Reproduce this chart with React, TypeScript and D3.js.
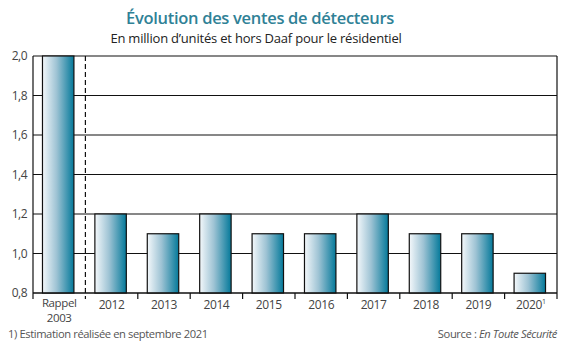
import React from "react";
import * as d3 from "d3";

const categories = ["Rappel 2003", "2012", "2013", "2014", "2015", "2016", "2017", "2018", "2019", "2020"];
const sales = [2.0, 1.2, 1.1, 1.2, 1.1, 1.1, 1.2, 1.1, 1.1, 0.9];
const yTicks = [0.8, 1.0, 1.2, 1.4, 1.6, 1.8, 2.0];

const W = 570;
const H = 350;
const margin = { top: 56, right: 13, bottom: 57, left: 33 };
const font = "'Open Sans', 'Noto Sans', sans-serif";

export default function App() {
  const width = W - margin.left - margin.right;
  const height = H - margin.top - margin.bottom;

  const y = d3.scaleLinear().domain([0.8, 2.0]).range([height, 0]);
  // band boundaries for ticks and bars
  const x = d3.scaleBand().domain(categories).range([0, width]).padding(0);
  const bandW = x.bandwidth();
  const barW = bandW * 0.6;

  return (
    <svg width={W} height={H} style={{ position: "absolute", left: 0, top: 0, background: "#fff" }}>
      <defs>
        <linearGradient id="barGrad" x1="0" x2="1" y1="0" y2="0">
          <stop offset="0" stopColor="#f4f8fb" />
          <stop offset="0.45" stopColor="#9ec3d4" />
          <stop offset="1" stopColor="#04799a" />
        </linearGradient>
      </defs>
      <text x={260} y={24} textAnchor="middle" fontFamily={font} fontSize={16.5} fontWeight={600} fill="#2f8196" letterSpacing={-0.3}>
        Évolution des ventes de détecteurs
      </text>
      <text x={256} y={43} textAnchor="middle" fontFamily={font} fontSize={13} fill="#222" letterSpacing={-0.2}>
        En million d’unités et hors Daaf pour le résidentiel
      </text>
      <g transform={`translate(${margin.left},${margin.top})`}>
        {yTicks.map((t) => (
          <g key={t}>
            <line x1={0} x2={width} y1={y(t)} y2={y(t)} stroke="#111" strokeWidth={1.2} />
            <text x={-6} y={y(t) + 4} textAnchor="end" fontFamily={font} fontSize={12} fill="#444" letterSpacing={-0.5}>
              {d3.format(".1f")(t).replace(".", ",")}
            </text>
          </g>
        ))}
        {/* frame */}
        <line x1={0} x2={0} y1={0} y2={height + 6} stroke="#111" strokeWidth={1.2} />
        <line x1={width} x2={width} y1={0} y2={height + 6} stroke="#111" strokeWidth={1.2} />
        <line x1={x(categories[1])!} x2={x(categories[1])!} y1={0} y2={height + 6} stroke="#111" strokeWidth={1.2} strokeDasharray="5,3" />
        {categories.map((c, i) =>
          i > 1 ? <line key={c} x1={x(c)!} x2={x(c)!} y1={height} y2={height + 6} stroke="#111" strokeWidth={1.2} /> : null
        )}
        {sales.map((v, i) => (
          <rect
            key={categories[i]}
            x={x(categories[i])! + (bandW - barW) / 2 - 1}
            y={y(v)}
            width={barW}
            height={height - y(v)}
            fill="url(#barGrad)"
            stroke="#111"
            strokeWidth={1.2}
          />
        ))}
        {categories.map((c, i) => {
          const cx = x(c)! + bandW / 2;
          if (i === 0) {
            return (
              <text key={c} x={cx} textAnchor="middle" fontFamily={font} fontSize={11.5} fill="#444" letterSpacing={-0.4}>
                <tspan x={cx} y={height + 14}>Rappel</tspan>
                <tspan x={cx} y={height + 28.5}>2003</tspan>
              </text>
            );
          }
          return (
            <text key={c} x={cx} y={height + 16} textAnchor="middle" fontFamily={font} fontSize={12} fill="#444" letterSpacing={-0.4}>
              {c}
              {i === categories.length - 1 ? <tspan fontSize={7} dy={-5}>1</tspan> : null}
            </text>
          );
        })}
        <line x1={0} x2={width} y1={height} y2={height} stroke="#111" strokeWidth={1.2} />
      </g>
      <text x={8} y={338} fontFamily={font} fontSize={11.2} fill="#555" letterSpacing={-0.4}>
        1) Estimation réalisée en septembre 2021
      </text>
      <text x={557} y={338} textAnchor="end" fontFamily={font} fontSize={11.2} fill="#555" letterSpacing={-0.4}>
        Source : <tspan fontStyle="italic">En Toute Sécurité</tspan>
      </text>
    </svg>
  );
}
